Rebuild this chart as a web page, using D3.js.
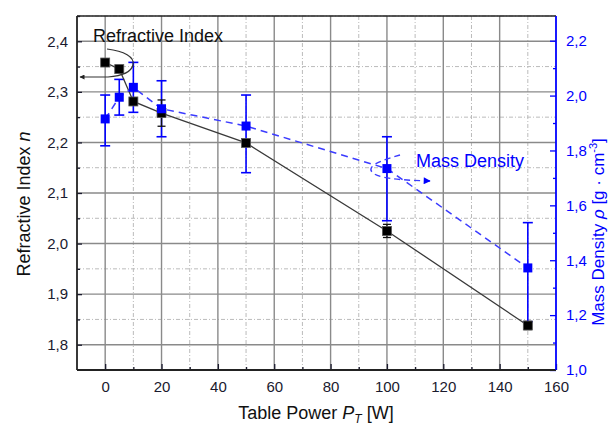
<!DOCTYPE html>
<html>
<head>
<meta charset="utf-8">
<script src="https://cdn.jsdelivr.net/npm/d3@7"></script>
<style>
body{margin:0;background:#fff;}
svg{display:block;font-family:"Liberation Sans",Arial,sans-serif;}
</style>
</head>
<body>
<svg id="c" width="611" height="425"></svg>
<script>
// ---- data ----
const power = [0, 5, 10, 20, 50, 100, 150];
const refIndex = [2.358, 2.345, 2.281, 2.258, 2.199, 2.025, 1.838];
const refErr = [0.005, 0.005, 0.005, 0.026, 0.005, 0.013, 0.008];
const density = [1.915, 1.994, 2.030, 1.952, 1.889, 1.734, 1.372];
const densUpper = [2.002, 2.059, 2.121, 2.054, 2.002, 1.850, 1.537];
const densLower = [1.817, 1.929, 1.939, 1.850, 1.719, 1.544, 1.176];
const xTicks = [0, 20, 40, 60, 80, 100, 120, 140, 160];
const leftTicks = [1.8, 1.9, 2.0, 2.1, 2.2, 2.3, 2.4];
const rightTicks = [1.0, 1.2, 1.4, 1.6, 1.8, 2.0, 2.2];

const svg = d3.select("#c");
const L = 77, R = 556, T = 16, B = 370;
const x = d3.scaleLinear().domain([-10, 160]).range([L, R]);
const yL = d3.scaleLinear().domain([1.75, 2.45]).range([B, T]);
const yR = d3.scaleLinear().domain([1.0, 2.29]).range([B, T]);
const fmt = v => d3.format(".1f")(v).replace(".", ",");
const BLUE = "#0000ff";

// ---- grid ----
const g = svg.append("g");
const xMinor = d3.range(-10, 160, 20).filter(v => v > -10);
const yMinor = d3.range(1.85, 2.45, 0.1);
g.selectAll(".gxm").data(xMinor).enter().append("line")
  .attr("x1", d => x(d)).attr("x2", d => x(d)).attr("y1", T).attr("y2", B)
  .attr("stroke", "#bbb").attr("stroke-width", 1).attr("stroke-dasharray", "4,2,1,2");
g.selectAll(".gym").data(yMinor).enter().append("line")
  .attr("x1", L).attr("x2", R).attr("y1", d => yL(d)).attr("y2", d => yL(d))
  .attr("stroke", "#bbb").attr("stroke-width", 1).attr("stroke-dasharray", "4,2,1,2");
g.selectAll(".gx").data(xTicks.filter(v => v < 160)).enter().append("line")
  .attr("x1", d => x(d)).attr("x2", d => x(d)).attr("y1", T).attr("y2", B)
  .attr("stroke", "#8a8a8a").attr("stroke-width", 1.4);
g.selectAll(".gy").data(leftTicks).enter().append("line")
  .attr("x1", L).attr("x2", R).attr("y1", d => yL(d)).attr("y2", d => yL(d))
  .attr("stroke", "#8a8a8a").attr("stroke-width", 1.4);

// ---- axes ----
const xAxis = d3.axisBottom(x).tickValues(xTicks).tickSize(-6).tickPadding(11).tickFormat(d3.format("d"));
const xAxisMinor = d3.axisBottom(x).tickValues(d3.range(10, 160, 20)).tickSize(-3).tickFormat("");
const lAxis = d3.axisLeft(yL).tickValues(leftTicks).tickSize(-5).tickPadding(9).tickFormat(fmt);
const lAxisMinor = d3.axisLeft(yL).tickValues(yMinor).tickSize(-3).tickFormat("");
const rAxis = d3.axisRight(yR).tickValues(rightTicks).tickSize(-6).tickPadding(10).tickFormat(fmt);
const rAxisMinor = d3.axisRight(yR).tickValues(d3.range(1.1, 2.25, 0.2)).tickSize(-3).tickFormat("");

function style(sel, color) {
  sel.select(".domain").remove();
  sel.selectAll("line").attr("stroke", color).attr("stroke-width", 1.3);
  sel.selectAll("text").attr("fill", color).attr("font-size", 15).attr("font-family", "Liberation Sans, Arial, sans-serif");
}
svg.append("g").attr("transform", `translate(0,${B})`).call(xAxis).call(s => style(s, "#1a1a2e"));
svg.append("g").attr("transform", `translate(0,${B})`).call(xAxisMinor).call(s => style(s, "#1a1a2e"));
svg.append("g").attr("transform", `translate(${L},0)`).call(lAxis).call(s => style(s, "#1a1a2e"));
svg.append("g").attr("transform", `translate(${L},0)`).call(lAxisMinor).call(s => style(s, "#1a1a2e"));
svg.append("g").attr("transform", `translate(${R},0)`).call(rAxis).call(s => style(s, BLUE));
svg.append("g").attr("transform", `translate(${R},0)`).call(rAxisMinor).call(s => style(s, BLUE));

// frame
svg.append("line").attr("x1", L).attr("x2", R).attr("y1", T).attr("y2", T).attr("stroke", "#222").attr("stroke-width", 1.5);
svg.append("line").attr("x1", L).attr("x2", R).attr("y1", B).attr("y2", B).attr("stroke", "#222").attr("stroke-width", 1.8);
svg.append("line").attr("x1", L).attr("x2", L).attr("y1", T).attr("y2", B).attr("stroke", "#222").attr("stroke-width", 1.8);
svg.append("line").attr("x1", R).attr("x2", R).attr("y1", T).attr("y2", B).attr("stroke", BLUE).attr("stroke-width", 1.8);

// ---- blue error bars ----
const capW = 5;
const eb = svg.append("g").attr("stroke", BLUE).attr("stroke-width", 1.6);
power.forEach((p, i) => {
  eb.append("line").attr("x1", x(p)).attr("x2", x(p)).attr("y1", yR(densUpper[i])).attr("y2", yR(densLower[i]));
  eb.append("line").attr("x1", x(p) - capW).attr("x2", x(p) + capW).attr("y1", yR(densUpper[i])).attr("y2", yR(densUpper[i]));
  eb.append("line").attr("x1", x(p) - capW).attr("x2", x(p) + capW).attr("y1", yR(densLower[i])).attr("y2", yR(densLower[i]));
});

// ---- black series ----
const lineL = d3.line().x((d, i) => x(power[i])).y(d => yL(d));
svg.append("path").datum(refIndex).attr("d", lineL).attr("fill", "none").attr("stroke", "#3a3a3a").attr("stroke-width", 1.3);
const ebk = svg.append("g").attr("stroke", "#111").attr("stroke-width", 1.3);
power.forEach((p, i) => {
  const a = yL(refIndex[i] + refErr[i]), b = yL(refIndex[i] - refErr[i]);
  ebk.append("line").attr("x1", x(p)).attr("x2", x(p)).attr("y1", a).attr("y2", b);
  ebk.append("line").attr("x1", x(p) - 4).attr("x2", x(p) + 4).attr("y1", a).attr("y2", a);
  ebk.append("line").attr("x1", x(p) - 4).attr("x2", x(p) + 4).attr("y1", b).attr("y2", b);
});
svg.selectAll(".sqk").data(refIndex).enter().append("rect")
  .attr("x", (d, i) => x(power[i]) - 4.5).attr("y", d => yL(d) - 4.5)
  .attr("width", 9).attr("height", 9).attr("fill", "#000").attr("stroke", "#555").attr("stroke-width", 0.8);

// ---- blue series ----
const lineR = d3.line().x((d, i) => x(power[i])).y(d => yR(d));
svg.append("path").datum(density).attr("d", lineR).attr("fill", "none").attr("stroke", "#3b3bff")
  .attr("stroke-width", 1.5).attr("stroke-dasharray", "7,5");
svg.selectAll(".sqb").data(density).enter().append("rect")
  .attr("x", (d, i) => x(power[i]) - 4.5).attr("y", d => yR(d) - 4.5)
  .attr("width", 9).attr("height", 9).attr("fill", BLUE);

// ---- annotations ----
const defs = svg.append("defs");
defs.append("marker").attr("id", "ak").attr("viewBox", "0 0 10 10").attr("refX", 9).attr("refY", 5)
  .attr("markerWidth", 7).attr("markerHeight", 5).attr("orient", "auto-start-reverse").attr("markerUnits", "userSpaceOnUse")
  .append("path").attr("d", "M0,0L10,5L0,10z").attr("fill", "#222");
defs.append("marker").attr("id", "ab").attr("viewBox", "0 0 10 10").attr("refX", 9).attr("refY", 5)
  .attr("markerWidth", 11).attr("markerHeight", 7).attr("orient", "auto").attr("markerUnits", "userSpaceOnUse")
  .append("path").attr("d", "M0,0L10,5L0,10z").attr("fill", BLUE);

svg.append("path").attr("d", "M107,49 C124,51 135,57 133,65 C131,73 120,76 108,77 L80,77")
  .attr("fill", "none").attr("stroke", "#333").attr("stroke-width", 1.2).attr("marker-end", "url(#ak)");
svg.append("text").attr("x", 93).attr("y", 42).attr("font-size", 18).attr("fill", "#111").text("Refractive Index");

svg.append("path").attr("d", "M400,155 C386,159 366,165 372,172 C377,178 396,180 430,181")
  .attr("fill", "none").attr("stroke", "#3b3bff").attr("stroke-width", 1.4).attr("stroke-dasharray", "6,4")
  .attr("marker-end", "url(#ab)");
svg.append("text").attr("x", 416).attr("y", 167).attr("font-size", 18).attr("fill", BLUE).text("Mass Density");

// ---- axis titles ----
const xt = svg.append("text").attr("x", 316).attr("y", 419).attr("text-anchor", "middle").attr("font-size", 18).attr("fill", "#111");
xt.append("tspan").text("Table Power ");
xt.append("tspan").attr("font-style", "italic").text("P");
xt.append("tspan").attr("font-style", "italic").attr("font-size", 12).attr("dy", 4).text("T");
xt.append("tspan").attr("dy", -4).text(" [W]");

const lt = svg.append("text").attr("transform", "translate(30,204) rotate(-90)").attr("text-anchor", "middle")
  .attr("font-size", 18).attr("fill", "#111");
lt.append("tspan").text("Refractive Index ");
lt.append("tspan").attr("font-style", "italic").text("n");

const rt = svg.append("text").attr("transform", "translate(604,232) rotate(-90)").attr("text-anchor", "middle")
  .attr("font-size", 17).attr("fill", BLUE);
rt.append("tspan").text("Mass Density ");
rt.append("tspan").attr("font-style", "italic").text("ρ");
rt.append("tspan").text(" [g · cm");
rt.append("tspan").attr("font-size", 11).attr("dy", -7).text("-3");
rt.append("tspan").attr("dy", 7).text("]");
</script>
</body>
</html>
